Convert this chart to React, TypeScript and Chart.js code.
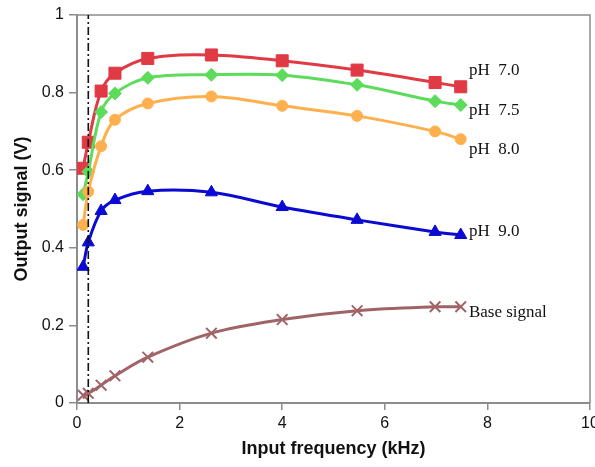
import React, { useEffect, useRef } from "react";
import { Chart, registerables } from "chart.js";

Chart.register(...registerables);

// Input frequency (kHz)
const freq = [0.12, 0.22, 0.47, 0.74, 1.38, 2.62, 4.0, 5.46, 6.98, 7.48];
// Output signal (V)
const ph70 = [0.605, 0.672, 0.804, 0.85, 0.888, 0.897, 0.882, 0.858, 0.826, 0.815];
const ph75 = [0.538, 0.596, 0.75, 0.798, 0.838, 0.846, 0.845, 0.82, 0.778, 0.768];
const ph80 = [0.459, 0.545, 0.662, 0.73, 0.772, 0.79, 0.766, 0.74, 0.7, 0.68];
const ph90 = [0.351, 0.414, 0.495, 0.523, 0.546, 0.543, 0.505, 0.472, 0.441, 0.433];
const baseSignal = [0.02, 0.025, 0.046, 0.07, 0.118, 0.18, 0.215, 0.238, 0.248, 0.248];

const seriesNames = ["pH  7.0", "pH  7.5", "pH  8.0", "pH  9.0", "Base signal"];
// label anchor in data units (x kHz, y V)
const labelX = [7.64, 7.64, 7.64, 7.64, 7.64];
const labelY = [0.858, 0.755, 0.652, 0.441, 0.232];

const markerFreq = 0.22; // dash-dot vertical line

const xTicks = [0, 2, 4, 6, 8, 10];
const yTicks = [0, 0.2, 0.4, 0.6, 0.8, 1];

const SANS = "'Liberation Sans', Arial, sans-serif";
const SERIF = "'Liberation Serif', 'Times New Roman', serif";

export default function App() {
  const ref = useRef<HTMLCanvasElement>(null);

  useEffect(() => {
    const canvas = ref.current;
    if (!canvas) return;

    const mk = (ys: number[]) => ys.map((y, i) => ({ x: freq[i], y }));

    const overlay = {
      id: "overlay",
      afterDatasetsDraw(chart: any) {
        const { ctx, chartArea, scales } = chart;
        ctx.save();
        // frame (top & right)
        ctx.strokeStyle = "#8c8c8c";
        ctx.lineWidth = 1.5;
        ctx.beginPath();
        ctx.moveTo(chartArea.left, chartArea.top);
        ctx.lineTo(chartArea.right, chartArea.top);
        ctx.lineTo(chartArea.right, chartArea.bottom);
        ctx.stroke();
        // dash-dot vertical line
        const xp = scales.x.getPixelForValue(markerFreq);
        ctx.strokeStyle = "#111";
        ctx.lineWidth = 1.6;
        ctx.setLineDash([8, 3, 2, 3]);
        ctx.beginPath();
        ctx.moveTo(xp, chartArea.bottom);
        ctx.lineTo(xp, chartArea.top);
        ctx.stroke();
        ctx.setLineDash([]);
        // series labels
        ctx.fillStyle = "#111";
        ctx.font = `17px ${SERIF}`;
        ctx.textAlign = "left";
        ctx.textBaseline = "middle";
        seriesNames.forEach((name, i) => {
          const px = scales.x.getPixelForValue(labelX[i]);
          const py = scales.y.getPixelForValue(labelY[i]);
          ctx.fillText(name, px, py);
        });
        ctx.restore();
      },
    };

    const ds = (
      label: string,
      data: number[],
      color: string,
      style: string,
      radius: number,
      order: number,
      bw = 1
    ) => ({
      label,
      data: mk(data),
      borderColor: color,
      backgroundColor: color,
      pointBackgroundColor: color,
      pointBorderColor: color,
      pointStyle: style,
      pointRadius: radius,
      pointBorderWidth: bw,
      borderWidth: 3,
      tension: 0.35,
      order,
    });

    const chart = new Chart(canvas, {
      type: "line",
      data: {
        datasets: [
          ds(seriesNames[0], ph70, "#e03a44", "rect", 8.5, 5),
          ds(seriesNames[1], ph75, "#5ddc5c", "rectRot", 6.5, 4),
          ds(seriesNames[2], ph80, "#ffb04e", "circle", 5.5, 3),
          ds(seriesNames[3], ph90, "#0a0ad2", "triangle", 7, 2),
          ds(seriesNames[4], baseSignal, "#a06468", "crossRot", 7.5, 1, 2),
        ] as any,
      },
      options: {
        animation: false,
        responsive: false,
        maintainAspectRatio: false,
        layout: {
          padding: { top: 15, right: 5, left: 0, bottom: 0 },
          autoPadding: false,
        } as any,
        plugins: {
          legend: { display: false },
          tooltip: { enabled: false },
        },
        scales: {
          x: {
            type: "linear",
            min: 0,
            max: 10,
            afterBuildTicks: (s: any) => {
              s.ticks = xTicks.map((v) => ({ value: v }));
            },
            afterFit: (s: any) => {
              s.height = 64;
              s.paddingLeft = 0;
              s.paddingRight = 0;
            },
            ticks: {
              color: "#111",
              font: { family: SANS, size: 16 },
              padding: 4,
              maxRotation: 0,
              callback: (v: any) => String(v),
            },
            grid: {
              display: true,
              drawOnChartArea: false,
              drawTicks: true,
              tickLength: 7,
              color: "#8c8c8c",
              lineWidth: 1.5,
            },
            border: { display: true, color: "#8c8c8c", width: 2 },
            title: {
              display: true,
              text: "Input frequency (kHz)",
              color: "#111",
              font: { family: SANS, size: 18, weight: "bold" },
              padding: { top: 0, bottom: 7 },
            },
          },
          y: {
            type: "linear",
            min: 0,
            max: 1,
            afterBuildTicks: (s: any) => {
              s.ticks = yTicks.map((v) => ({ value: v }));
            },
            afterFit: (s: any) => {
              s.width = 77;
              s.paddingTop = 0;
              s.paddingBottom = 0;
            },
            ticks: {
              color: "#111",
              font: { family: SANS, size: 16 },
              padding: 5,
              callback: (v: any) => String(Math.round(v * 10) / 10),
            },
            grid: {
              display: true,
              drawOnChartArea: false,
              drawTicks: true,
              tickLength: 8,
              color: "#8c8c8c",
              lineWidth: 1.5,
            },
            border: { display: true, color: "#8c8c8c", width: 2 },
            title: {
              display: true,
              text: "Output signal (V)",
              color: "#111",
              font: { family: SANS, size: 18, weight: "bold" },
              padding: { top: 11, bottom: 0 },
            },
          },
        },
      },
      plugins: [overlay],
    });

    return () => chart.destroy();
  }, []);

  return (
    <div
      style={{
        position: "fixed",
        left: 0,
        top: 0,
        width: 595,
        height: 467,
        background: "#fff",
      }}
    >
      <canvas ref={ref} width={595} height={467} style={{ width: 595, height: 467 }} />
    </div>
  );
}
